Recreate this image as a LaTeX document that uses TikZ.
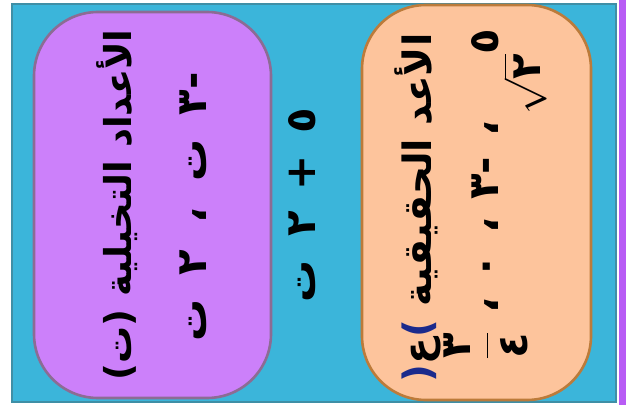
\RequirePackage{fix-cm}
\documentclass[tikz,border=0pt]{standalone}
\usepackage{amsmath}
\usepackage{fontspec}
\newfontfamily\arabicfont[Script=Arabic]{DejaVu Sans}
\TeXXeTstate=1
\usetikzlibrary{positioning}

\definecolor{bgblue}{HTML}{3BB5DA}
\definecolor{bgedge}{HTML}{3F8FA6}
\definecolor{lilac}{HTML}{CC80FA}
\definecolor{lilacedge}{HTML}{8C6C94}
\definecolor{peach}{HTML}{FDC49C}
\definecolor{peachedge}{HTML}{BC7B3A}
\definecolor{stripe}{HTML}{B85CF5}
\definecolor{parenblue}{HTML}{1A2A8C}

\begin{document}
\begin{tikzpicture}[x=1pt,y=1pt,
  setbox/.style={rounded corners=64pt,line width=2.6pt},
  titletext/.style={rotate=90,inner sep=0pt,font=\arabicfont\bfseries\fontsize{37}{40}\selectfont},
  valtext/.style={rotate=90,inner sep=0pt,font=\arabicfont\bfseries\fontsize{42}{46}\selectfont}]
\useasboundingbox (0,0) rectangle (626,405);
\fill[white] (0,0) rectangle (626,405);
\fill[stripe] (619,0) rectangle (626,405);
\draw[fill=bgblue,draw=bgedge,line width=1.4pt] (12,3) rectangle (616,401);

% the two sets
\draw[setbox,fill=lilac,draw=lilacedge] (34,7) rectangle (271,393);
\draw[setbox,fill=peach,draw=peachedge] (362,5) rectangle (591,400);

% imaginary numbers
\node[titletext] (imtitle) at (117,200) {\beginR الأعداد التخيلية (ت)\endR};
\node[valtext] (imvals) at (193,198)
  {\beginR -٣\hspace{24pt}ت\hspace{26pt}،\hspace{26pt}٢\hspace{24pt}ت\endR};

% complex number between them
\node[valtext] (cxnum) at (302,200)
  {\beginR ٥\hspace{22pt}+\hspace{20pt}٢\hspace{24pt}ت\endR};

% real numbers (blue brackets, set left to right)
\node[titletext,font=\arabicfont\bfseries\fontsize{39}{42}\selectfont] (retitle) at (418,197)
  {\textcolor{parenblue}{(}ع\textcolor{parenblue}{)} \beginR الأعد الحقيقية\endR};
\node[valtext] (revals) at (495,211)
  {\beginR ٥\hspace{0pt}\hbox{\raisebox{-42pt}{$\sqrt{\hbox{٢}}$}}\hspace{6pt}،\hspace{20pt}-٣\hspace{18pt}،\hspace{20pt}٠\hspace{18pt}،\hspace{18pt}\hbox{$\dfrac{\hbox{٣}}{\hbox{٤}}$}\endR};
\end{tikzpicture}
\end{document}
